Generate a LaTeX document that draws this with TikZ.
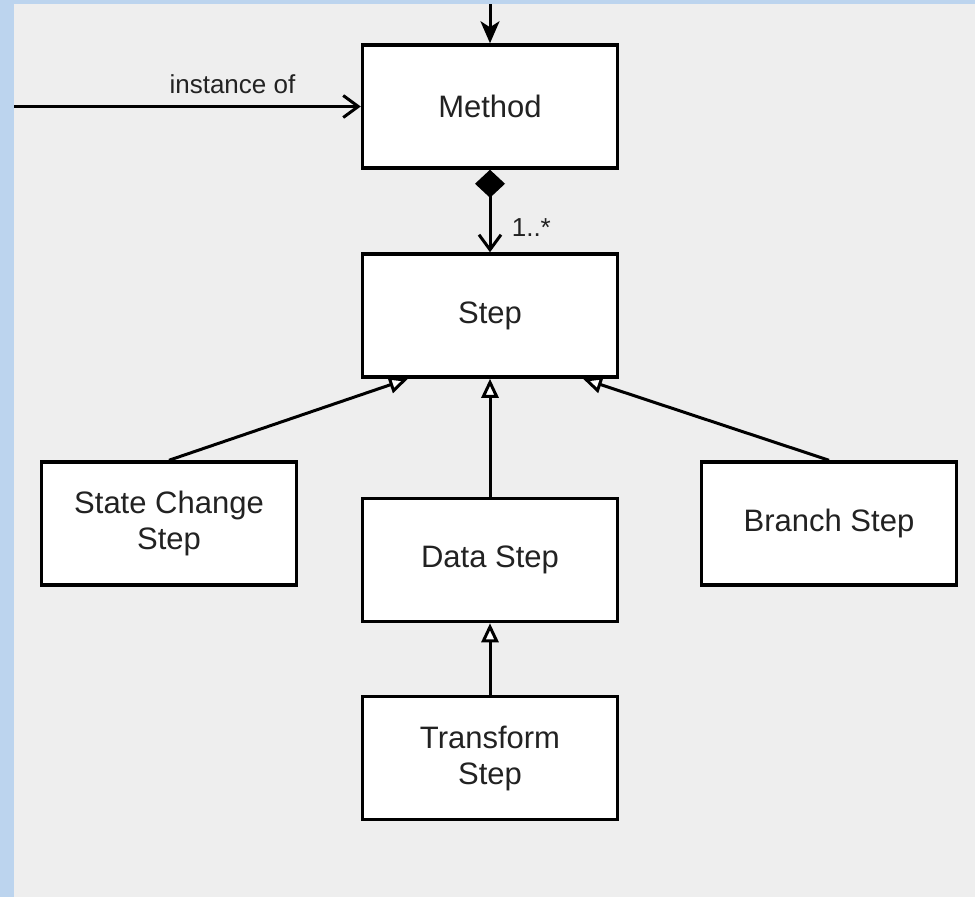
\documentclass[tikz,border=0pt]{standalone}
\usepackage{fontspec}
\setmainfont{Liberation Sans}
\usetikzlibrary{arrows.meta}
\definecolor{frameblue}{HTML}{BCD4EE}
\definecolor{canvasgray}{HTML}{EEEEEE}
\definecolor{inkgray}{HTML}{222222}
\begin{document}
\begin{tikzpicture}[x=1pt, y=-1pt,
    box/.style = {draw, fill = white, line width = 3.5pt, inner sep = 0pt,
      minimum width = 255pt, minimum height = 123pt, align = center,
      text = inkgray, font = \fontsize{31pt}{36pt}\selectfont},
    conn/.style = {line width = 3pt},
    lbl/.style = {text = inkgray, font = \fontsize{26pt}{30pt}\selectfont},
    generalizes/.style = {conn, -{Triangle[open, length = 19pt, width = 17pt, fill = white]}}
  ]
  \useasboundingbox (0, 0) rectangle (975, 897);
  \fill [frameblue] (0, 0) rectangle (975, 897);
  \fill [canvasgray] (14, 4) rectangle (975, 897);

  \node [box] (method) at (490, 106.5) {Method};
  \node [box] (step) at (490, 315.5) {Step};
  \node [box] (statechange) at (169, 523.5) {State Change\\Step};
  \node [box] (datastep) at (490, 560) {Data Step};
  \node [box] (branch) at (829, 523.5) {Branch Step};
  \node [box] (transform) at (490, 758) {Transform\\Step};

  \coordinate (above) at (490, 4);
  \coordinate (outside) at (14, 106.5);

  \draw [conn, -{Stealth[length = 22pt, width = 19pt, inset = 6pt]}] (above) -- (method.north);
  \draw [conn, -{Straight Barb[length = 15pt, width = 22pt]}] (outside) -- (method.west)
    node [lbl, pos = 0.63, above = 8pt] {instance of};
  \draw [conn, {Diamond[length = 28pt, width = 30pt]}-{Straight Barb[length = 15pt, width = 22pt]}]
    (method.south) -- (step.north) node [lbl, pos = 0.7, right = 17pt] {1..*};
  \draw [generalizes] (statechange.north) -- ([xshift = -82pt] step.south);
  \draw [generalizes] (datastep.north) -- (step.south);
  \draw [generalizes] (branch.north) -- ([xshift = 93pt] step.south);
  \draw [generalizes] (transform.north) -- (datastep.south);
\end{tikzpicture}
\end{document}
